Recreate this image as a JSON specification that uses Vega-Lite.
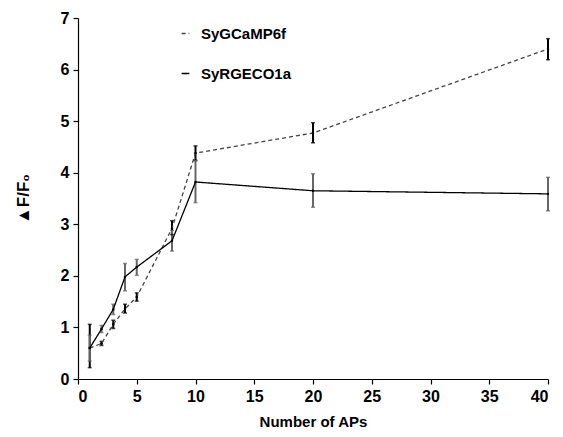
{
  "$schema": "https://vega.github.io/schema/vega-lite/v6.json",
  "width": 470,
  "height": 361,
  "autosize": {"type": "none"},
  "padding": {"left": 78, "top": 18, "right": 15, "bottom": 58},
  "background": "white",
  "config": {
    "view": {"stroke": null},
    "font": "Liberation Sans",
    "axis": {"grid": false, "domainColor": "black", "tickColor": "black", "labelColor": "black", "titleColor": "black", "labelFont": "Liberation Sans", "titleFont": "Liberation Sans", "labelFontWeight": "bold", "titleFontWeight": "bold", "labelFontSize": 16, "titleFontSize": 15, "tickSize": 5, "domainWidth": 1.2, "tickWidth": 1.2}
  },
  "data": {"values": [
    {"series": "SyGCaMP6f", "x": 1, "y": 0.6, "lo": 0.22, "hi": 1.06},
    {"series": "SyGCaMP6f", "x": 2, "y": 0.69, "lo": 0.65, "hi": 0.73},
    {"series": "SyGCaMP6f", "x": 3, "y": 1.06, "lo": 0.98, "hi": 1.14},
    {"series": "SyGCaMP6f", "x": 4, "y": 1.36, "lo": 1.28, "hi": 1.45},
    {"series": "SyGCaMP6f", "x": 5, "y": 1.59, "lo": 1.51, "hi": 1.67},
    {"series": "SyGCaMP6f", "x": 8, "y": 2.92, "lo": 2.8, "hi": 3.07},
    {"series": "SyGCaMP6f", "x": 10, "y": 4.38, "lo": 4.24, "hi": 4.52},
    {"series": "SyGCaMP6f", "x": 20, "y": 4.77, "lo": 4.58, "hi": 4.97},
    {"series": "SyGCaMP6f", "x": 40, "y": 6.4, "lo": 6.19, "hi": 6.6},
    {"series": "SyRGECO1a", "x": 1, "y": 0.6, "lo": 0.35, "hi": 0.85},
    {"series": "SyRGECO1a", "x": 2, "y": 0.97, "lo": 0.9, "hi": 1.04},
    {"series": "SyRGECO1a", "x": 3, "y": 1.35, "lo": 1.25, "hi": 1.45},
    {"series": "SyRGECO1a", "x": 4, "y": 1.98, "lo": 1.71, "hi": 2.24},
    {"series": "SyRGECO1a", "x": 5, "y": 2.17, "lo": 2.01, "hi": 2.32},
    {"series": "SyRGECO1a", "x": 8, "y": 2.68, "lo": 2.48, "hi": 2.88},
    {"series": "SyRGECO1a", "x": 10, "y": 3.82, "lo": 3.42, "hi": 4.23},
    {"series": "SyRGECO1a", "x": 20, "y": 3.65, "lo": 3.33, "hi": 3.98},
    {"series": "SyRGECO1a", "x": 40, "y": 3.59, "lo": 3.26, "hi": 3.91}
  ]},
  "encoding": {
    "x": {"field": "x", "type": "quantitative", "scale": {"domain": [0, 40], "nice": false}, "axis": {"values": [0,5,10,15,20,25,30,35,40], "title": "Number of APs", "titlePadding": 10, "labelPadding": 4}}
  },
  "layer": [
    {
      "mark": {"type": "rule", "strokeWidth": 2},
      "encoding": {
        "y": {"field": "lo", "type": "quantitative", "scale": {"domain": [0, 7], "nice": false}, "axis": {"values": [0,1,2,3,4,5,6,7], "format": "d", "title": "▲F/F₀", "titleFontSize": 17, "titlePadding": 28, "labelPadding": 4}},
        "y2": {"field": "hi"},
        "color": {"condition": {"test": "datum.series === 'SyGCaMP6f'", "value": "#000000"}, "value": "#666666"}
      }
    },
    {
      "mark": {"type": "tick", "orient": "horizontal", "size": 4, "thickness": 1.5},
      "encoding": {
        "y": {"field": "lo", "type": "quantitative"},
        "color": {"condition": {"test": "datum.series === 'SyGCaMP6f'", "value": "#000000"}, "value": "#666666"}
      }
    },
    {
      "mark": {"type": "tick", "orient": "horizontal", "size": 4, "thickness": 1.5},
      "encoding": {
        "y": {"field": "hi", "type": "quantitative"},
        "color": {"condition": {"test": "datum.series === 'SyGCaMP6f'", "value": "#000000"}, "value": "#666666"}
      }
    },
    {
      "mark": {"type": "line", "strokeWidth": 1.3},
      "encoding": {
        "y": {"field": "y", "type": "quantitative"},
        "stroke": {"field": "series", "type": "nominal", "scale": {"domain": ["SyGCaMP6f", "SyRGECO1a"], "range": ["#444444", "#000000"]}, "legend": {"title": null, "orient": "none", "legendX": 100, "legendY": 8, "symbolType": "stroke", "symbolSize": 60, "symbolStrokeWidth": 1.5, "labelFontSize": 15, "labelFontWeight": "bold", "labelFont": "Liberation Sans", "labelColor": "black", "rowPadding": 24, "labelOffset": 8}},
        "strokeDash": {"field": "series", "type": "nominal", "scale": {"domain": ["SyGCaMP6f", "SyRGECO1a"], "range": [[4, 3], [1, 0]]}, "legend": {"title": null, "orient": "none", "legendX": 100, "legendY": 8, "symbolType": "stroke", "symbolSize": 60, "symbolStrokeWidth": 1.5, "labelFontSize": 15, "labelFontWeight": "bold", "labelFont": "Liberation Sans", "labelColor": "black", "rowPadding": 24, "labelOffset": 8}}
      }
    },
    {
      "mark": {"type": "point", "filled": true, "size": 6, "color": "black", "opacity": 1},
      "encoding": {
        "y": {"field": "y", "type": "quantitative"}
      }
    }
  ]
}
